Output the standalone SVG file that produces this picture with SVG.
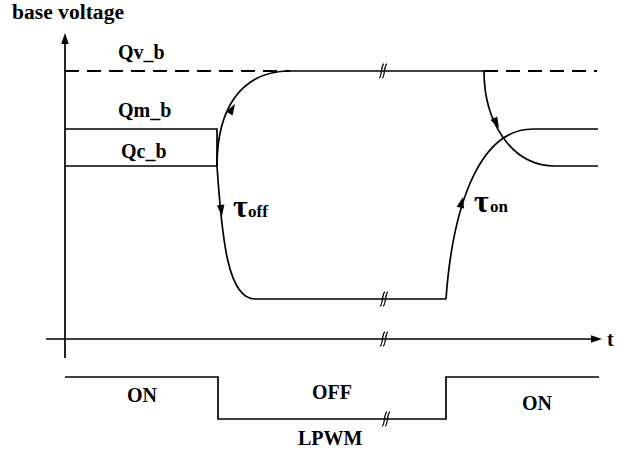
<svg xmlns="http://www.w3.org/2000/svg" width="633" height="451" viewBox="0 0 633 451">
<style>
.ln{fill:none;stroke:#000;stroke-width:1.7}
.ds{fill:none;stroke:#000;stroke-width:1.8;stroke-dasharray:14 8}
text{font-family:'Liberation Serif','Times New Roman',serif;font-weight:bold;fill:#000}
.tx{font-size:20px}
.tau{font-size:32px}
.sub{font-size:17px}
.brk{fill:none;stroke:#000;stroke-width:1.3}
</style>
<defs>
<path id="ah" d="M0,0 L-11,-3.8 L-11,3.8 Z" fill="#000"/>
<g id="bm"><path class="brk" d="M-4,7 C-1,7 -2,-7 1,-7"/><path class="brk" d="M-1,7 C2,7 1,-7 4,-7"/></g>
</defs>
<rect width="633" height="451" fill="#fff"/>
<g id="axes">
<line class="ln" x1="65" y1="358" x2="65" y2="42"/>
<use href="#ah" transform="translate(65,33) rotate(-90)"/>
<line class="ln" x1="46" y1="339" x2="593" y2="339"/>
<use href="#ah" transform="translate(602,339)"/>
</g>
<g id="connectors">
<path class="ds" d="M65,71 H290"/>
<path class="ln" d="M290,71 H484"/>
<path class="ds" d="M484,71 H597"/>
<path class="ln" d="M65,129 H217 V166 M65,166 H217"/>
<path class="ln" d="M217,166 C217,110 240,71 290,71"/>
<path class="ln" d="M217,166 C222,240 228,299 255,299 H446"/>
<path class="ln" d="M446,299 C452,215 476,129 533,129 H598"/>
<path class="ln" d="M484,71 C484,120 510,166 555,166 H598"/>
<path class="ln" d="M65,377 H218 V419 H446 V377 H599"/>
<use href="#ah" transform="translate(235,104) rotate(-59)"/>
<use href="#ah" transform="translate(222,216) rotate(83)"/>
<use href="#ah" transform="translate(463,197) rotate(-76)"/>
<use href="#ah" transform="translate(499,128) rotate(62)"/>
<use href="#bm" transform="translate(383,71)"/>
<use href="#bm" transform="translate(384,299)"/>
<use href="#bm" transform="translate(384,339)"/>
<use href="#bm" transform="translate(386,419)"/>
</g>
<g id="labels" font-family="Liberation Serif, serif" font-weight="bold">
<text class="tx" x="12" y="19" textLength="112" lengthAdjust="spacingAndGlyphs">base voltage</text>
<text class="tx" x="118" y="59">Qv_b</text>
<text class="tx" x="118" y="117">Qm_b</text>
<text class="tx" x="121" y="158">Qc_b</text>
<text class="tau" x="233" y="217">τ</text><text class="sub" x="248" y="217">off</text>
<text class="tau" x="474" y="212">τ</text><text class="sub" x="490" y="212">on</text>
<text class="tx" x="607" y="346">t</text>
<text class="tx" x="127" y="402">ON</text>
<text class="tx" x="312" y="399">OFF</text>
<text class="tx" x="298" y="445">LPWM</text>
<text class="tx" x="522" y="410">ON</text>
</g>
</svg>
